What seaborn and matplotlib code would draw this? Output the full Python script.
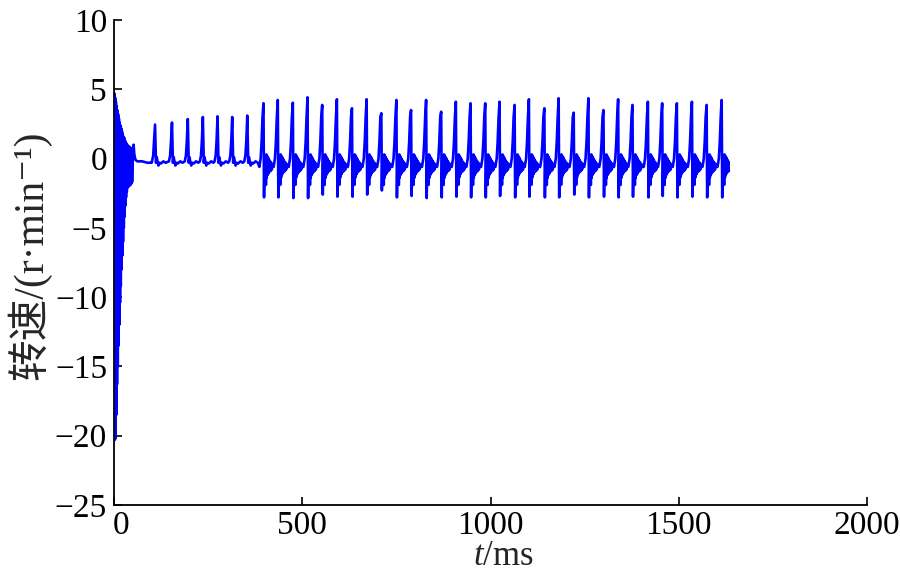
import numpy as np
import pandas as pd
import matplotlib
matplotlib.use("Agg")
import matplotlib.pyplot as plt
import matplotlib.transforms as mtransforms
import seaborn as sns

# ---------------- data ----------------
# start-up transient: successive extremes (t in ms, speed in r/min)
init_t = list(range(0, 49))
init_v = [0.0, 4.7, -20.3, 4.4, -20.2, 4.1, -18.5, 3.8, -16.3, 3.5, -15.0,
          3.2, -13.5, 2.9, -12.0, 2.6, -10.4, 2.4, -9.2, 2.2, -8.0, 2.0,
          -7.0, 1.8, -6.0, 1.6, -5.0, 1.5, -4.2, 1.3, -3.4, 1.2, -2.8, 1.1,
          -2.4, 1.0, -2.1, 0.9, -2.0, 0.9, -2.0, 0.8, -1.9, 0.8, -1.9, 0.7,
          -1.8, 0.7, -1.7]
# settling after the transient
settle_t = [50, 52, 54, 57, 62, 75, 88, 100]
settle_v = [0.2, 1.0, 0.3, -0.1, -0.2, -0.2, -0.3, -0.3]

# first regime: small spikes
small_t = [109, 154, 196, 236, 275, 314, 354]
small_peak = [2.45, 2.6, 2.85, 3.0, 3.05, 3.0, 3.1]
small_rise_dt = [-8, -5, -2.5]
small_rise_v = [-0.2, 0.2, 1.3]
small_tail_dt = [2.5, 4.5, 6.5, 9, 12, 16, 22, 28]
small_tail_v = [-0.3, 0.1, -0.2, -0.5, -0.3, -0.35, -0.2, -0.3]

# second regime: large spikes
big_t = [397, 435, 475, 514, 553, 592, 632, 671, 710, 750, 789, 829, 869,
         908, 947, 986, 1024, 1064, 1102, 1143, 1181, 1221, 1260, 1300,
         1339, 1377, 1418, 1456, 1495, 1535, 1574, 1614]
big_peak = [3.99, 4.23, 4.03, 4.42, 3.87, 4.28, 3.63, 4.28,
            3.27, 4.23, 3.5, 4.23, 3.38, 4.1, 3.99, 3.99, 4.1,
            3.87, 4.28, 3.63, 4.35, 3.31, 4.35, 3.5, 4.28,
            3.87, 4.1, 3.99, 3.99, 4.1, 3.87, 4.23]
big_trough = [-2.8, -2.8, -2.85, -2.85, -2.6, -2.75, -2.75, -2.6,
              -2.3, -2.8, -2.7, -2.85, -2.8, -2.75, -2.8, -2.8, -2.7,
              -2.8, -2.75, -2.8, -2.8, -2.6, -2.8, -2.75, -2.8,
              -2.75, -2.8, -2.7, -2.8, -2.75, -2.8, -2.8]
big_rise_dt = [-11, -7.5, -5, -2.5]
big_rise_v = [-0.6, 0.0, 1.2, 3.0]
big_trough_dt = 1.5
big_ring_dt = [3, 4, 5, 6.5, 7.5, 8.5, 9.5, 10.5, 11.5, 12.5, 13.5, 14.5,
               15.5, 16.5, 17.5, 19, 20.5, 22, 24, 25.5]
big_ring_v = [0.1, -1.1, 0.2, -1.9, 0.3, -1.4, 0.2, -1.2, 0.1, -1.1, 0.0,
              -1.0, -0.1, -0.9, -0.2, -0.9, -0.3, -0.8, -0.4, -0.6]
end_cut = 1634

x_ticks = [0, 500, 1000, 1500, 2000]
y_ticks = [-25, -20, -15, -10, -5, 0, 5, 10]

# ---------------- assemble the trace ----------------
ts = list(init_t) + list(settle_t)
vs = list(init_v) + list(settle_v)
for tc, p in zip(small_t, small_peak):
    ts += [tc + d for d in small_rise_dt] + [tc] + [tc + d for d in small_tail_dt]
    vs += list(small_rise_v) + [p] + list(small_tail_v)
for tc, p, tr in zip(big_t, big_peak, big_trough):
    ts += [tc + d for d in big_rise_dt] + [tc, tc + big_trough_dt] + [tc + d for d in big_ring_dt]
    vs += list(big_rise_v) + [p, tr] + list(big_ring_v)
df = pd.DataFrame({"t": ts, "v": vs})
df = df[df["t"] <= end_cut]

# ---------------- plot ----------------
sns.set_theme(style="ticks")
plt.rcParams["font.family"] = ["Liberation Serif", "Noto Sans CJK SC", "DejaVu Serif"]
plt.rcParams["mathtext.fontset"] = "custom"
plt.rcParams["mathtext.rm"] = "Liberation Serif"
plt.rcParams["mathtext.it"] = "Liberation Serif:italic"
plt.rcParams["axes.unicode_minus"] = True

fig = plt.figure(figsize=(9, 5.75), dpi=100)
ax = fig.add_axes([114 / 900, 70 / 575, 753 / 900, 485 / 575])

sns.lineplot(data=df, x="t", y="v", ax=ax, color="#0000ff", linewidth=1.9,
             estimator=None, sort=False)

ax.set_xlim(0, 2000)
ax.set_ylim(-25, 10)
ax.set_xticks(x_ticks)
ax.set_yticks(y_ticks)
ax.tick_params(direction="in", length=6, width=1.2, labelsize=24,
               colors="black")
ax.tick_params(axis="x", pad=4)
ax.tick_params(axis="y", pad=5)
for s in ["top", "right"]:
    ax.spines[s].set_visible(False)
for s in ["left", "bottom"]:
    ax.spines[s].set_linewidth(1.3)
    ax.spines[s].set_color("black")
ax.set_facecolor("white")

# the "0" on the x axis sits slightly right of its tick in the reference
lbl0 = ax.get_xticklabels()[0]
lbl0.set_transform(lbl0.get_transform() +
                   mtransforms.ScaledTranslation(7 / 100, 0, fig.dpi_scale_trans))

ax.set_xlabel("$t$/ms", fontsize=25, labelpad=0)
ax.xaxis.set_label_coords(0.517, -0.072)
ax.set_ylabel("转速/(r·min⁻¹)", fontsize=30)
ax.yaxis.set_label_coords(-0.083, 0.515)

fig.savefig("out.png", dpi=100, facecolor="white")
